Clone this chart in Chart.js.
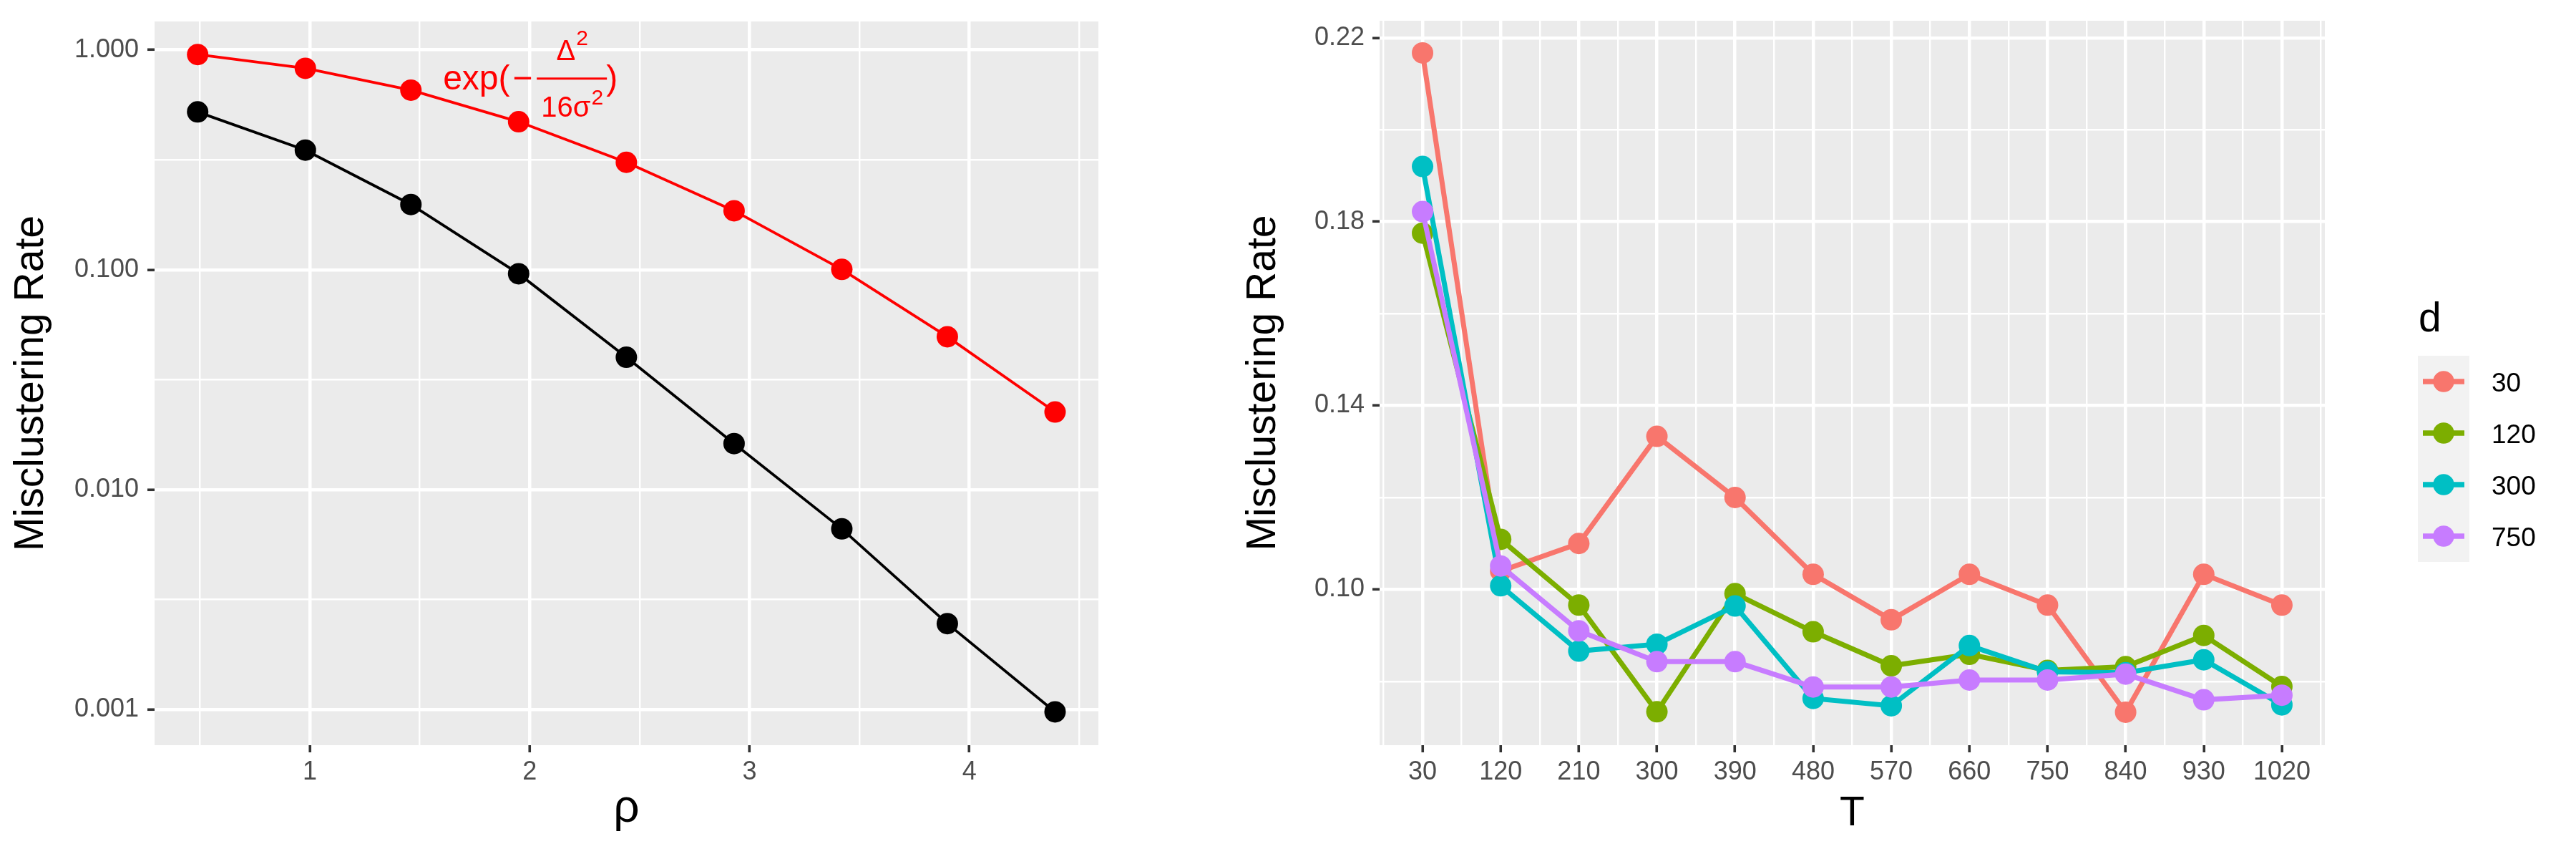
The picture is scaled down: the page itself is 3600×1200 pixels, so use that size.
<!DOCTYPE html>
<html>
<head>
<meta charset="utf-8">
<title>Misclustering Rate</title>
<script src="https://cdn.jsdelivr.net/npm/chart.js@4.4.1/dist/chart.umd.min.js"></script>
<style>
  html, body { margin: 0; padding: 0; background: #ffffff; }
  #left { position: absolute; left: 0; top: 0; }
  #right { position: absolute; left: 1700px; top: 0; }
</style>
</head>
<body>
<canvas id="left" width="1700" height="1200"></canvas>
<canvas id="right" width="1900" height="1200"></canvas>
<script>
// ---- left panel: rate vs rho (log scale) ----
var rho = [0.49, 0.98, 1.46, 1.95, 2.44, 2.93, 3.42, 3.90, 4.39];
var boundRate = [0.952, 0.824, 0.656, 0.471, 0.308, 0.1855, 0.1004, 0.0496, 0.02255];
var empiricalRate = [0.522, 0.350, 0.198, 0.0959, 0.0400, 0.0162, 0.00663, 0.00246, 0.000976];
var rhoTicks = [1, 2, 3, 4];
var rhoTickLabels = ['1', '2', '3', '4'];
var logTicks = [0.001, 0.01, 0.1, 1];
var logTickLabels = ['0.001', '0.010', '0.100', '1.000'];

// ---- right panel: rate vs T, one line per d ----
var T = [30, 120, 210, 300, 390, 480, 570, 660, 750, 840, 930, 1020];
var dLevels = ['30', '120', '300', '750'];
var rateD30  = [0.2167, 0.1040, 0.1100, 0.1333, 0.1200, 0.1033, 0.0934, 0.1033, 0.0966, 0.0733, 0.1033, 0.0966];
var rateD120 = [0.1775, 0.1109, 0.0966, 0.0734, 0.0991, 0.0908, 0.0834, 0.0859, 0.0824, 0.0832, 0.0900, 0.0789];
var rateD300 = [0.1920, 0.1008, 0.0866, 0.0881, 0.0964, 0.0763, 0.0747, 0.0878, 0.0821, 0.0819, 0.0847, 0.0749];
var rateD750 = [0.1822, 0.1051, 0.0910, 0.0843, 0.0843, 0.0788, 0.0788, 0.0803, 0.0803, 0.0816, 0.0760, 0.0770];
var rightTicks = [0.10, 0.14, 0.18, 0.22];
var rightTickLabels = ['0.10', '0.14', '0.18', '0.22'];
var hue = ['#F8766D', '#7CAE00', '#00BFC4', '#C77CFF'];

var FONT = '"Liberation Sans", Arial, sans-serif';
Chart.defaults.font.family = FONT;

// major ticks plus ggplot-style minor ticks half way between them
function linearTicks(majors, min, max) {
  var step = majors[1] - majors[0];
  var out = majors.map(function (v) { return { value: v, minor: false }; });
  majors.forEach(function (v) { out.push({ value: v - step / 2, minor: true }); });
  out.push({ value: majors[majors.length - 1] + step / 2, minor: true });
  return out.filter(function (t) { return t.value >= min && t.value <= max; })
            .sort(function (a, b) { return a.value - b.value; });
}
function logMinorTicks(majors, min, max) {
  var out = majors.map(function (v) { return { value: v, minor: false }; });
  majors.forEach(function (v) {
    out.push({ value: v / Math.sqrt(10), minor: true });
    out.push({ value: v * Math.sqrt(10), minor: true });
  });
  var seen = {};
  return out.filter(function (t) {
    var k = t.value.toPrecision(6);
    if (seen[k] || t.value < min || t.value > max) return false;
    seen[k] = true; return true;
  }).sort(function (a, b) { return a.value - b.value; });
}

function gridOpts() {
  return {
    color: '#FFFFFF',
    lineWidth: function (c) { return c.tick && c.tick.minor ? 2.4 : 4.5; },
    tickLength: 10,
    tickWidth: 3.6,
    tickColor: function (c) { return c.tick && c.tick.minor ? 'rgba(0,0,0,0)' : '#333333'; }
  };
}
function tickFont() { return { size: 36, lineHeight: 1 }; }
function labelFrom(majors, labels) {
  return function (value, index, ticks) {
    if (ticks[index].minor) return '';
    for (var i = 0; i < majors.length; i++) {
      if (Math.abs(majors[i] - value) < 1e-9 * Math.max(1, Math.abs(value))) return labels[i];
    }
    return '';
  };
}

var panelBg = {
  id: 'panelBg',
  beforeDraw: function (chart) {
    var a = chart.chartArea, ctx = chart.ctx;
    ctx.save();
    ctx.fillStyle = '#EBEBEB';
    ctx.fillRect(a.left, a.top, a.right - a.left, a.bottom - a.top);
    ctx.restore();
  }
};

// exp(-Delta^2 / 16 sigma^2) label beside the red curve
var formulaLabel = {
  id: 'formulaLabel',
  afterDatasetsDraw: function (chart, args, opts) {
    var ctx = chart.ctx;
    var cx = chart.scales.x.getPixelForValue(opts.x);
    var cy = chart.scales.y.getPixelForValue(opts.y);
    ctx.save();
    ctx.fillStyle = opts.color;
    ctx.textBaseline = 'alphabetic';
    ctx.font = '48px ' + FONT;
    ctx.textAlign = 'left';
    ctx.fillText('exp(', cx - 121, cy + 15);
    ctx.textAlign = 'center';
    ctx.fillText('\u2212', cx - 10, cy + 15);
    ctx.textAlign = 'left';
    ctx.fillText(')', cx + 107, cy + 15);
    ctx.fillRect(cx + 10, cy - 1.5, 98, 3);
    function supGroup(base, baseY, supY, mid) {
      ctx.font = '40px ' + FONT;
      var wb = ctx.measureText(base).width;
      ctx.font = '30px ' + FONT;
      var ws = ctx.measureText('2').width;
      var x = mid - (wb + ws) / 2;
      ctx.font = '40px ' + FONT;
      ctx.fillText(base, x, baseY);
      ctx.font = '30px ' + FONT;
      ctx.fillText('2', x + wb + 1, supY);
    }
    supGroup('\u0394', cy - 26, cy - 47, cx + 59);
    supGroup('16\u03C3', cy + 53, cy + 36, cx + 59);
    ctx.restore();
  }
};

// ggplot-like legend with line + point keys
var dLegend = {
  id: 'dLegend',
  afterDraw: function (chart) {
    var ctx = chart.ctx;
    var x0 = chart.chartArea.right + 130, y0 = 497, key = 72;
    var sets = chart.data.datasets.slice().sort(function (a, b) { return b.order - a.order; });
    ctx.save();
    ctx.fillStyle = '#000000';
    ctx.font = '57px ' + FONT;
    ctx.textBaseline = 'alphabetic';
    ctx.fillText('d', x0 + 1, 463);
    ctx.fillStyle = '#F2F2F2';
    ctx.fillRect(x0, y0, key, key * sets.length);
    sets.forEach(function (ds, i) {
      var cx = x0 + key / 2, cy = y0 + key * i + key / 2;
      ctx.strokeStyle = ds.borderColor;
      ctx.lineWidth = 7.3;
      ctx.beginPath(); ctx.moveTo(x0 + 7, cy); ctx.lineTo(x0 + 65, cy); ctx.stroke();
      ctx.fillStyle = ds.borderColor;
      ctx.beginPath(); ctx.arc(cx, cy, 14.7, 0, Math.PI * 2); ctx.fill();
      ctx.fillStyle = '#000000';
      ctx.font = '37px ' + FONT;
      ctx.fillText(ds.label, x0 + 103, cy + 14);
    });
    ctx.restore();
  }
};

function pts(xs, ys) { return xs.map(function (x, i) { return { x: x, y: ys[i] }; }); }

var leftXMin = 0.294, leftXMax = 4.587;
var leftYMin = Math.pow(10, -3.162), leftYMax = Math.pow(10, 0.129);

new Chart(document.getElementById('left'), {
  type: 'line',
  data: {
    datasets: [
      { label: 'bound', data: pts(rho, boundRate), borderColor: '#FF0000', backgroundColor: '#FF0000',
        borderWidth: 3.8, pointRadius: 15, pointBorderWidth: 0, pointBackgroundColor: '#FF0000', tension: 0 },
      { label: 'empirical', data: pts(rho, empiricalRate), borderColor: '#000000', backgroundColor: '#000000',
        borderWidth: 3.8, pointRadius: 15, pointBorderWidth: 0, pointBackgroundColor: '#000000', tension: 0 }
    ]
  },
  options: {
    responsive: false,
    devicePixelRatio: 1,
    animation: false,
    layout: { padding: { left: 0, top: 22, right: 165, bottom: 0 } },
    plugins: {
      legend: { display: false },
      tooltip: { enabled: false },
      formulaLabel: { x: 2.0, y: 0.74, color: '#FF0000' }
    },
    scales: {
      x: {
        type: 'linear', min: leftXMin, max: leftXMax, bounds: 'data',
        grid: gridOpts(), border: { display: false },
        ticks: { font: tickFont(), color: '#4D4D4D', padding: 10.5, autoSkip: false, maxRotation: 0, minRotation: 0,
                 callback: labelFrom(rhoTicks, rhoTickLabels) },
        afterBuildTicks: function (s) { s.ticks = linearTicks(rhoTicks, leftXMin, leftXMax); },
        afterFit: function (s) { s.height = 159; },
        title: { display: true, text: '\u03C1', color: '#000000', font: { size: 64, lineHeight: 1 }, padding: { top: 0, bottom: 38 } }
      },
      y: {
        type: 'logarithmic', min: leftYMin, max: leftYMax, bounds: 'data',
        grid: gridOpts(), border: { display: false },
        ticks: { font: tickFont(), color: '#4D4D4D', padding: 12, autoSkip: false,
                 callback: labelFrom(logTicks, logTickLabels) },
        afterBuildTicks: function (s) { s.ticks = logMinorTicks(logTicks, leftYMin, leftYMax); },
        afterFit: function (s) { s.width = 216; },
        title: { display: true, text: 'Misclustering Rate', color: '#000000', font: { size: 57, lineHeight: 1 }, padding: { top: 16, bottom: 0 } }
      }
    }
  },
  plugins: [panelBg, formulaLabel]
});

var rightXMin = -19.5, rightXMax = 1069.5;
var rightYMin = 0.06613, rightYMax = 0.2237;
var rightSeries = [rateD30, rateD120, rateD300, rateD750];

new Chart(document.getElementById('right'), {
  type: 'line',
  data: {
    datasets: rightSeries.map(function (ys, k) {
      return {
        label: dLevels[k], data: pts(T, ys), order: rightSeries.length - k,
        borderColor: hue[k], backgroundColor: hue[k], pointBackgroundColor: hue[k],
        borderWidth: 7, pointRadius: 15, pointBorderWidth: 0, tension: 0
      };
    })
  },
  options: {
    responsive: false,
    devicePixelRatio: 1,
    animation: false,
    layout: { padding: { left: 0, top: 22, right: 351, bottom: 0 } },
    plugins: { legend: { display: false }, tooltip: { enabled: false } },
    scales: {
      x: {
        type: 'linear', min: rightXMin, max: rightXMax, bounds: 'data',
        grid: gridOpts(), border: { display: false },
        ticks: { font: tickFont(), color: '#4D4D4D', padding: 10.5, autoSkip: false, maxRotation: 0, minRotation: 0,
                 callback: labelFrom(T, T.map(String)) },
        afterBuildTicks: function (s) { s.ticks = linearTicks(T, rightXMin, rightXMax); },
        afterFit: function (s) { s.height = 159; },
        title: { display: true, text: 'T', color: '#000000', font: { size: 57, lineHeight: 1 }, padding: { top: 0, bottom: 34 } }
      },
      y: {
        type: 'linear', min: rightYMin, max: rightYMax, bounds: 'data',
        grid: gridOpts(), border: { display: false },
        ticks: { font: tickFont(), color: '#4D4D4D', padding: 11, autoSkip: false,
                 callback: labelFrom(rightTicks, rightTickLabels) },
        afterBuildTicks: function (s) { s.ticks = linearTicks(rightTicks, rightYMin, rightYMax); },
        afterFit: function (s) { s.width = 228; },
        title: { display: true, text: 'Misclustering Rate', color: '#000000', font: { size: 57, lineHeight: 1 }, padding: { top: 38, bottom: 0 } }
      }
    }
  },
  plugins: [panelBg, dLegend]
});
</script>
</body>
</html>
